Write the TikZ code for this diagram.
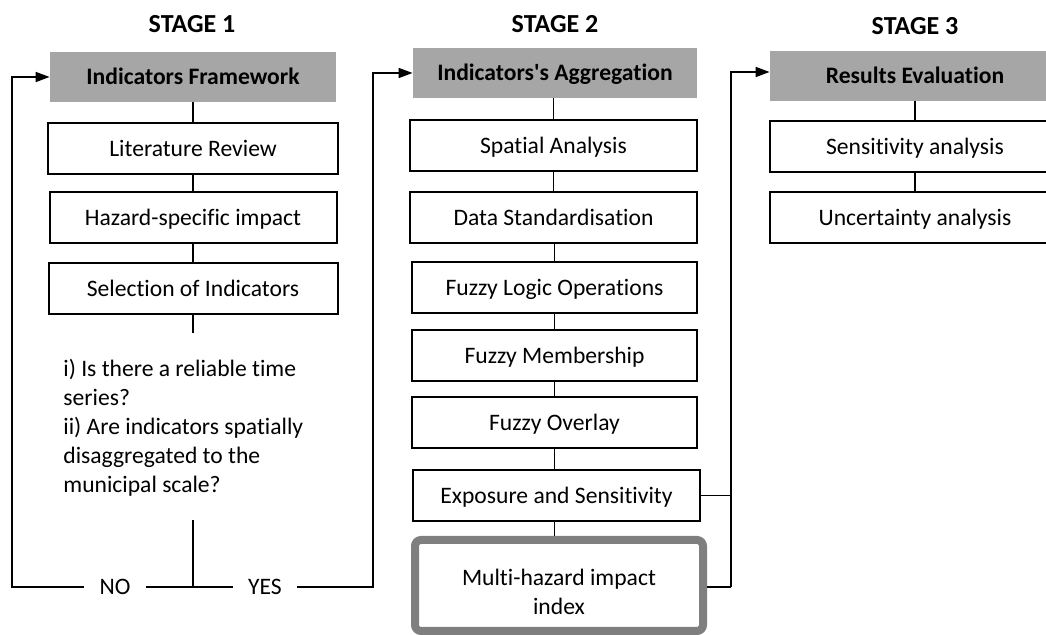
\documentclass[tikz,border=0pt]{standalone}
\usepackage{fontspec}
\setmainfont{Carlito}[Ligatures=NoCommon]
\usetikzlibrary{arrows.meta}
\definecolor{headgray}{RGB}{166,166,166}
\definecolor{framegray}{RGB}{127,127,127}
\begin{document}
\begin{tikzpicture}[x=0.5pt, y=-0.5pt,
  font=\fontsize{11.8}{14.5}\selectfont,
  stagelabel/.style={font=\fontsize{13}{15}\selectfont\bfseries},
  headbox/.style={fill=headgray, minimum height=25pt, inner sep=0pt, text height=10pt, text depth=2pt,
    font=\fontsize{11.8}{14.5}\selectfont\bfseries},
  stepbox/.style={draw, line width=1pt, minimum height=25.5pt, inner sep=0pt, text height=10pt, text depth=2pt},
  link/.style={line width=0.8pt},
  feed/.style={line width=0.8pt, -{Triangle[length=7pt,width=5pt]}}]
\clip (0,0) rectangle (1046,635);
\useasboundingbox (0,0) rectangle (1046,635);

% Stage 1 - indicators framework
\node[stagelabel] (s1) at (192,24) {STAGE 1};
\node[headbox, minimum width=143pt] (frame) at (193,77) {Indicators Framework};
\node[stepbox, minimum width=145pt] (lit) at (193,149) {Literature Review};
\node[stepbox, minimum width=143.5pt] (haz) at (193,217.5) {Hazard-specific impact};
\node[stepbox, minimum width=144.5pt] (sel) at (193,289) {Selection of Indicators};
\node[align=left, anchor=north west, inner sep=0pt] (quest) at (63,358.5)
  {i) Is there a reliable time\\ series?\\ ii) Are indicators spatially\\ disaggregated to the\\ municipal scale?};
\coordinate (qtop) at (193,333);
\coordinate (qbot) at (193,520);
\coordinate (junc) at (193,587);
\node[inner sep=7.5pt] (no) at (115,587) {NO};
\node[inner sep=7.5pt] (yes) at (265,587) {YES};
\coordinate (lc) at (12,587);
\coordinate (rc) at (373,587);
\draw[link] (frame) -- (lit) -- (haz) -- (sel) -- (qtop);
\draw[link] (qbot) -- (junc);
\draw[link] (junc) -- (no);
\draw[link] (junc) -- (yes);
\draw[feed] (no) -- (lc) |- (frame);

% Stage 2 - aggregation
\node[stagelabel] (s2) at (555,24) {STAGE 2};
\node[headbox, minimum width=142pt] (aggr) at (555,73) {Indicators\textquotesingle s Aggregation};
\node[stepbox, minimum width=143.5pt] (spat) at (553.5,146) {Spatial Analysis};
\node[stepbox, minimum width=143.5pt] (std) at (553.5,217.5) {Data Standardisation};
\node[stepbox, minimum width=142.5pt] (logic) at (554.5,287.5) {Fuzzy Logic Operations};
\node[stepbox, minimum width=142.5pt] (memb) at (554.5,355.5) {Fuzzy Membership};
\node[stepbox, minimum width=142.5pt] (over) at (554.5,423) {Fuzzy Overlay};
\node[stepbox, minimum width=143.5pt] (expo) at (556.5,495.5) {Exposure and Sensitivity};
\node[draw=framegray, line width=4pt, rounded corners=3pt, minimum width=144pt, minimum height=45.5pt,
  align=center, inner sep=0pt, text height=29.5pt] (mhi) at (559,585.5) {Multi-hazard impact\\ index};
\coordinate (rj) at (731,587);
\draw[feed] (yes) -- (rc) |- (aggr);
\draw[link] (aggr.south -| spat) -- (spat) -- (std);
\draw[link] (std.south -| logic) -- (logic) -- (memb) -- (over);
\draw[link] (over) -- (over |- expo.north);
\draw[link] (expo.south -| over) -- (mhi.north -| over);
\draw[link] (expo) -| (rj);
\draw[link] (mhi.east |- rj) -- (rj);

% Stage 3 - evaluation
\node[stagelabel] (s3) at (915,26) {STAGE 3};
\node[headbox, minimum width=145pt] (eval) at (915,76) {Results Evaluation};
\node[stepbox, minimum width=145pt] (sens) at (915,147) {Sensitivity analysis};
\node[stepbox, minimum width=145pt] (unc) at (915,217.5) {Uncertainty analysis};
\draw[feed] (rj) |- (eval.west |- 0,72);
\draw[link] (eval) -- (sens) -- (unc);
\end{tikzpicture}
\end{document}
